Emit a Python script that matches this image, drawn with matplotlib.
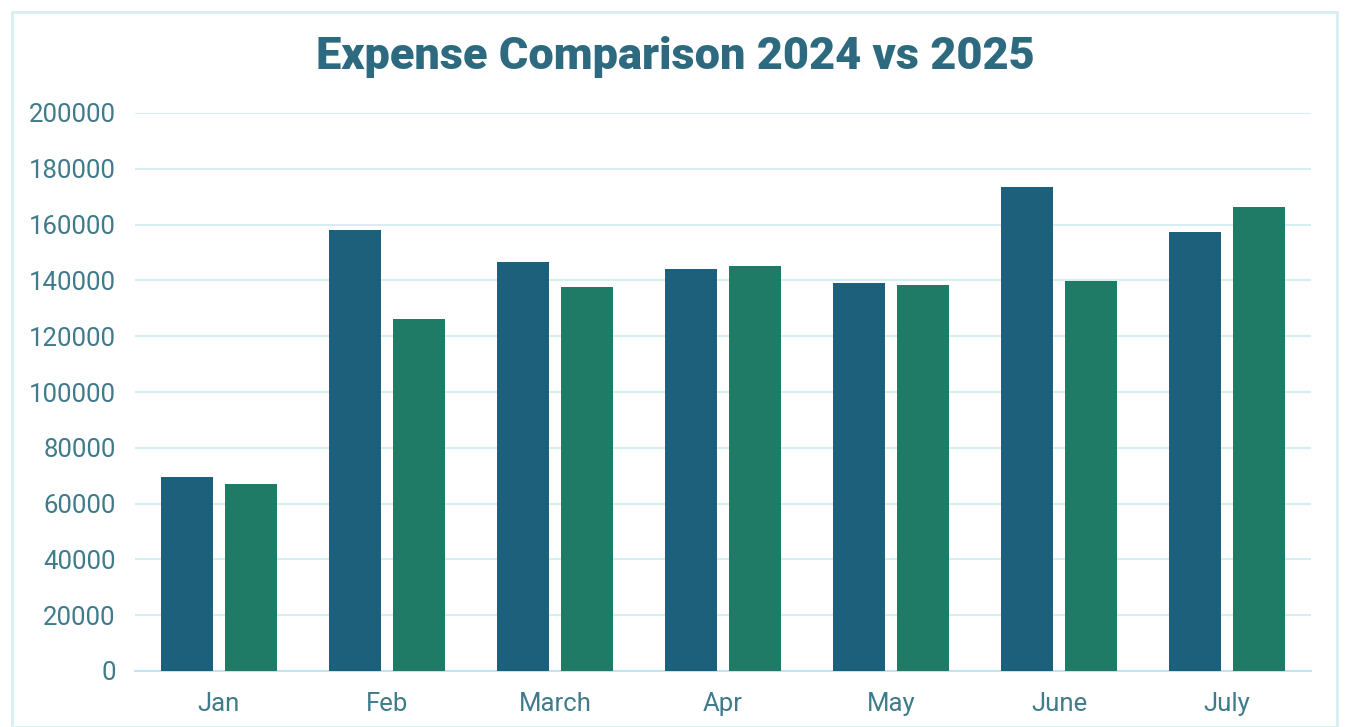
import matplotlib.pyplot as plt
import numpy as np
from matplotlib.patches import Rectangle

months = ["Jan", "Feb", "March", "Apr", "May", "June", "July"]
exp_2024 = [69500, 158000, 146500, 144000, 139200, 173500, 157300]
exp_2025 = [67200, 126000, 137500, 145200, 138200, 139800, 166300]
yticks = [0, 20000, 40000, 60000, 80000, 100000, 120000, 140000, 160000, 180000, 200000]

c_2024 = "#1d607c"
c_2025 = "#1f7a66"
txt_c = "#3f7b8a"
title_c = "#2d6a7f"

plt.rcParams["font.family"] = ["Roboto", "DejaVu Sans"]

fig = plt.figure(figsize=(13.51, 7.27), dpi=100)
ax = fig.add_axes([135 / 1351, 1 - 671 / 727, 1176 / 1351, 558 / 727])

# light frame around the chart
fig.patches.append(Rectangle((12 / 1351, 0.0), 1325 / 1351, 1 - 12 / 727,
                             transform=fig.transFigure, fill=False,
                             edgecolor="#d8eef0", linewidth=2))

x = np.arange(len(months))
w = 0.31
off = 0.193
ax.bar(x - off, exp_2024, width=w, color=c_2024, zorder=3)
ax.bar(x + off, exp_2025, width=w, color=c_2025, zorder=3)

ax.set_xlim(-0.5, len(months) - 0.5)
ax.set_ylim(0, 200000)
ax.set_yticks(yticks)
ax.set_yticklabels([str(v) for v in yticks])
ax.set_xticks(x)
ax.set_xticklabels(months)
ax.tick_params(axis="both", length=0, labelsize=18.5, labelcolor=txt_c)
ax.tick_params(axis="y", pad=14)
ax.tick_params(axis="x", pad=15)

ax.grid(axis="y", color="#d6eef1", linewidth=1.5, zorder=0)
ax.set_axisbelow(True)
for s in ["top", "right", "left"]:
    ax.spines[s].set_visible(False)
ax.spines["bottom"].set_color("#bfe6ee")
ax.spines["bottom"].set_linewidth(1.5)

fig.text(0.5, 1 - 57 / 727, "Expense Comparison 2024 vs 2025", ha="center", va="center",
         fontsize=32.5, fontweight="heavy", color=title_c)

fig.savefig("out.png", dpi=100, facecolor="white")
